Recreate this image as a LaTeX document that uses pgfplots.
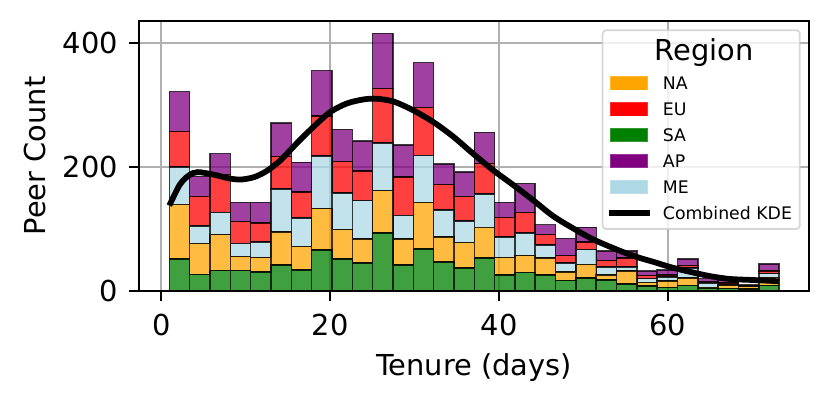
\documentclass[border=0pt]{standalone}
\usepackage{pgfplots}
\pgfplotsset{compat=1.18}
\usepackage{pgfplotstable}
\usepackage{fontspec}
\setmainfont{DejaVu Sans}

\definecolor{cNA}{RGB}{255,165,0}
\definecolor{cEU}{RGB}{255,0,0}
\definecolor{cSA}{RGB}{0,128,0}
\definecolor{cAP}{RGB}{128,0,128}
\definecolor{cME}{RGB}{173,216,230}
\definecolor{gridc}{RGB}{176,176,176}

\pgfplotstableread{
x SA NA ME EU AP
2.15 52 88 60 58 64
4.56 27 50 28 48 32
6.97 33 58 36 61 34
9.38 33 23 21 35 31
11.78 31 23 25 31 33
14.19 42 53 70 52 54
16.60 34 38 46 42 48
19.00 66 67 85 65 73
21.41 52 47 59 51 52
23.82 45 39 62 48 48
26.23 94 68 77 88 89
28.63 42 42 38 62 52
31.04 68 75 76 77 73
33.45 47 40 44 41 33
35.85 37 41 35 40 39
38.26 53 50 54 49 50
40.67 26 28 33 32 24
43.07 30 27 37 33 47
45.48 26 27 21 17 16
47.89 17 14 14 12 28
50.30 21 22 24 12 24
52.70 18 8 13 10 16
55.11 11 21 7 14 12
57.52 8 6 6 5 7
59.92 6 10 7 3 8
62.33 9 12 16 4 11
64.74 4 2 7 2 5
67.14 4 5 1 3 5
69.55 3 4 1 1 1
71.96 9 13 6 4 12
}\bardata

\pgfplotsset{
  common/.style={
    scale only axis,
    width=232.2pt, height=93.68pt,
    at={(48.18pt,38.84pt)}, anchor=south west,
    xmin=-2.64, xmax=76.7, ymin=0, ymax=436.5,
    xtick={0,20,40,60}, ytick={0,200,400},
  },
  barstyle/.style={fill=#1, draw=black, fill opacity=0.75, draw opacity=0.75, line width=0.5pt},
}

\begin{document}
\begin{tikzpicture}
\path[use as bounding box] (0,0) rectangle (288pt,139.7pt);

% grid and bars
\begin{axis}[common,
  ybar stacked, bar width=2.407,
  grid=major, major grid style={line width=0.8pt, color=gridc},
  axis line style={draw=none}, tick style={draw=none},
  xticklabels={}, yticklabels={},
]
\addplot[barstyle=cSA] table[x=x, y=SA] {\bardata};
\addplot[barstyle=cNA] table[x=x, y=NA] {\bardata};
\addplot[barstyle=cME] table[x=x, y=ME] {\bardata};
\addplot[barstyle=cEU] table[x=x, y=EU] {\bardata};
\addplot[barstyle=cAP] table[x=x, y=AP] {\bardata};
\end{axis}

% frame, ticks, labels, KDE, legend
\begin{axis}[common,
  axis line style={line width=0.8pt, black},
  tick align=outside, major tick length=3.5pt,
  tick style={black, line width=0.8pt},
  xtick pos=left, ytick pos=left,
  /pgf/number format/assume math mode=true,
  ticklabel style={font=\fontsize{10}{12}\selectfont},
  xticklabel style={anchor=base, yshift=-12pt},
  yticklabel style={anchor=east, inner sep=0pt, xshift=-3.6pt},
  label style={font=\fontsize{10}{12}\selectfont},
  xlabel={Tenure (days)}, ylabel={Peer Count},
  xlabel style={at={(axis description cs:0.5,-0.311)}, anchor=base},
  ylabel style={at={(axis description cs:-0.1403,0.5)}, anchor=base, rotate=0},
  legend cell align=left,
  legend style={at={(1,1)}, anchor=north east, xshift=-2.9pt, yshift=-3pt,
    draw=black!20, line width=0.6pt, rounded corners=1.2pt,
    fill=white, fill opacity=0.8, draw opacity=0.8, text opacity=1,
    inner xsep=2.7pt, inner ysep=0.95pt, column sep=5.2pt,
    font=\fontsize{6}{7}\selectfont,
    nodes={inner sep=0pt, text height=6.7pt, text depth=2.3pt}},
]
\addplot[black, line width=2pt, smooth, forget plot] coordinates {
(0.95,138) (2.2,172) (3.3,187) (4.3,192) (6.2,188) (8.0,182) (9.4,180)
(11,184) (12.5,194) (14.1,211) (16.0,238) (18.0,265) (20.0,289) (22.0,303)
(24.0,309.5) (25.5,310.5) (27.5,306) (29.8,292) (32.2,273) (34.6,249)
(36.9,222) (39.3,195) (41.7,171) (44.0,147) (46.4,121) (48.8,101)
(51.2,83) (54.3,65) (56.3,55) (58.3,47) (60.2,39) (62.6,31) (65.0,24)
(67.3,19.5) (69.7,18) (72.1,16.5) (73.2,15.5)
};
\addlegendimage{empty legend}
\addlegendentry[text height=9.45pt, text depth=3.5pt, font=\fontsize{10}{12}\selectfont]{\hspace*{-2.8pt}Region}
\addlegendimage{legend image code/.code={\fill[cNA, fill opacity=1, sharp corners] (0pt,-2.15pt) rectangle (12.4pt,2.15pt);}}
\addlegendentry{NA}
\addlegendimage{legend image code/.code={\fill[cEU, fill opacity=1, sharp corners] (0pt,-2.15pt) rectangle (12.4pt,2.15pt);}}
\addlegendentry{EU}
\addlegendimage{legend image code/.code={\fill[cSA, fill opacity=1, sharp corners] (0pt,-2.15pt) rectangle (12.4pt,2.15pt);}}
\addlegendentry{SA}
\addlegendimage{legend image code/.code={\fill[cAP, fill opacity=1, sharp corners] (0pt,-2.15pt) rectangle (12.4pt,2.15pt);}}
\addlegendentry{AP}
\addlegendimage{legend image code/.code={\fill[cME, fill opacity=1, sharp corners] (0pt,-2.15pt) rectangle (12.4pt,2.15pt);}}
\addlegendentry{ME}
\addlegendimage{legend image code/.code={\draw[overlay, black, line width=2pt, draw opacity=1, sharp corners] (-0.9pt,0pt) -- (13.5pt,0pt); \path[draw=none, fill=none] (0pt,-2.15pt) rectangle (12.4pt,2.15pt);}}
\addlegendentry{Combined KDE}
\end{axis}
\end{tikzpicture}
\end{document}
